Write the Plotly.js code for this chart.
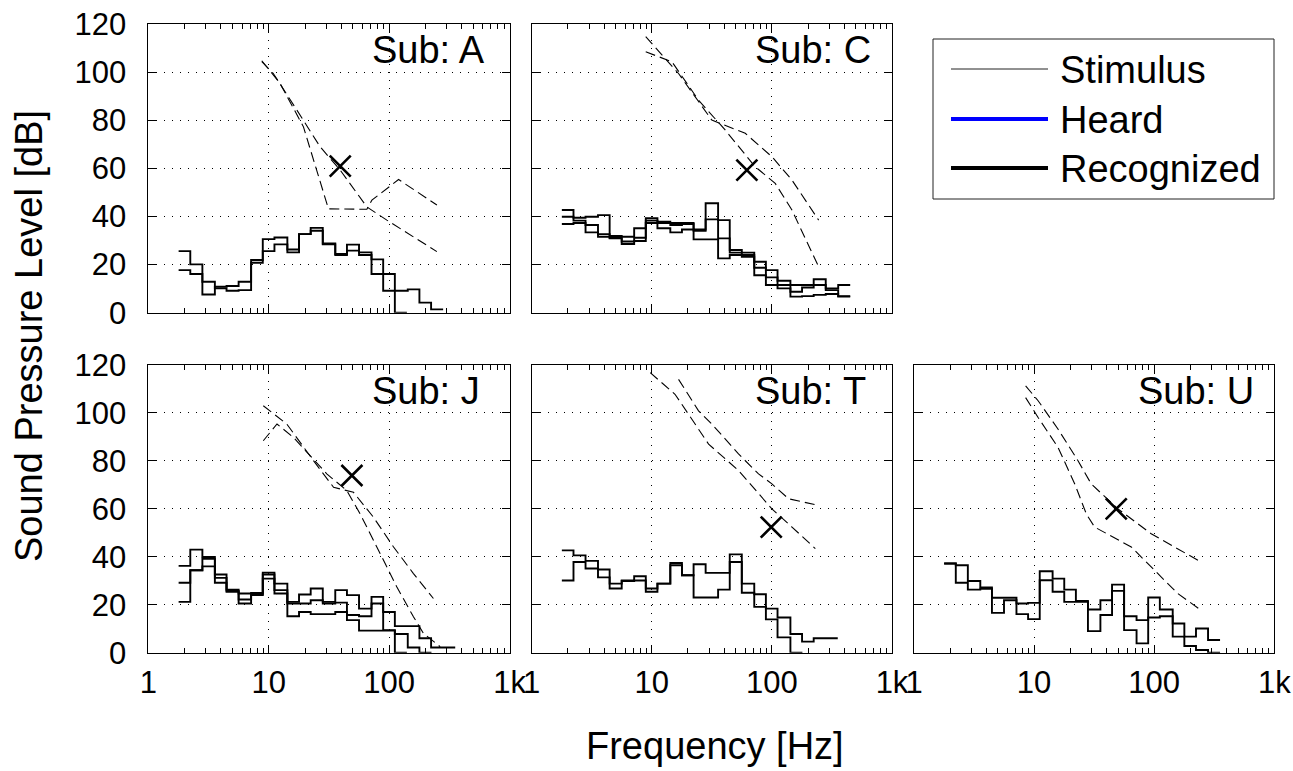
<!DOCTYPE html>
<html>
<head>
<meta charset="utf-8">
<script src="https://cdn.plot.ly/plotly-3.0.1.min.js"></script>
<style>
html,body{margin:0;padding:0;background:#fff;}
#chart{width:1293px;height:771px;}
</style>
</head>
<body>
<div id="chart"></div>
<script>
// ---------- DATA ----------
// 1/3-octave band centre frequencies (Hz)
const bandCenters = [2, 2.5, 3.15, 4, 5, 6.3, 8, 10, 12.5, 16, 20, 25, 31.5, 40, 50, 63, 80, 100, 125, 160, 200, 250, 315, 400, 500];

// Band levels (dB) per subject, step curves
const subA_band1 = [25.6, 20.1, 7.6, 10.8, 11.1, 12.9, 21.9, 30.6, 31.3, 26.3, 32.7, 35.3, 28.8, 24.4, 28.3, 25.1, 22.2, 9.1, 9.1, 9.7, 4.2, 1.4];
const subA_band2 = [17.7, 16.1, 12.9, 10.1, 9.1, 9.4, 20.8, 25.6, 28.4, 25.1, 32.7, 34.1, 28.4, 24.0, 25.8, 24.0, 16.1, 16.1, 0];

const subC_band1 = [42.7, 39.5, 39.9, 40.6, 31.9, 31.6, 35.1, 39.3, 37.8, 37.3, 37.3, 34.6, 45.5, 38.5, 26.1, 25.0, 21.2, 17.7, 13.3, 11.5, 11.5, 13.9, 10.1, 11.5];
const subC_band2 = [39.9, 38.3, 36.5, 32.7, 31.2, 29.6, 31.2, 38.3, 37.3, 36.5, 36.9, 34.1, 38.8, 30.9, 25.0, 24.0, 18.7, 14.7, 11.5, 8.7, 10.5, 11.5, 9.4, 6.9];
const subC_band3 = [36.9, 37.3, 33.4, 31.6, 30.9, 28.6, 29.8, 37.3, 35.1, 33.4, 34.6, 30.5, 30.5, 22.6, 24.0, 23.3, 15.6, 11.5, 10.1, 6.7, 6.9, 7.4, 7.8, 6.7];

const subJ_band1 = [36.2, 43.0, 39.9, 32.6, 26.3, 24.7, 24.9, 33.4, 28.8, 21.2, 24.3, 26.8, 21.2, 26.1, 24.0, 18.4, 23.3, 17.0, 11.1, 11.1, 6.0, 2.2, 2.2];
const subJ_band2 = [29.2, 34.4, 39.2, 31.2, 25.8, 22.2, 24.4, 32.6, 26.1, 20.5, 20.5, 21.9, 20.5, 20.9, 15.7, 15.2, 20.5, 9.4, 7.8, 2.2, 0];
const subJ_band3 = [21.2, 34.4, 36.0, 29.2, 25.4, 20.5, 24.0, 30.9, 24.7, 15.2, 17.0, 16.1, 16.1, 17.0, 13.6, 9.2, 9.2, 9.2, 0];

const subT_band1 = [42.7, 40.6, 38.3, 34.7, 28.8, 30.1, 31.9, 26.8, 28.8, 37.4, 32.3, 36.9, 33.3, 33.3, 41.0, 28.8, 24.4, 18.4, 14.7, 7.8, 4.6, 6.0, 6.0];
const subT_band2 = [30.1, 37.8, 35.1, 31.4, 26.8, 29.9, 30.1, 25.4, 28.8, 36.5, 32.3, 23.0, 23.0, 26.3, 37.8, 25.0, 19.1, 13.9, 6.4, 0];

const subU_band1 = [37.2, 36.5, 29.9, 27.2, 22.9, 22.9, 20.5, 20.8, 34.0, 30.9, 26.3, 21.6, 18.0, 21.9, 28.4, 15.2, 13.6, 23.0, 18.0, 12.2, 6.7, 10.1, 5.3];
const subU_band2 = [37.2, 29.2, 26.3, 26.7, 16.6, 21.9, 16.1, 14.0, 30.2, 25.4, 21.2, 21.2, 9.0, 15.7, 25.8, 9.4, 3.9, 14.7, 15.2, 6.7, 2.8, 1.1, 0];

// Stimulus curves (dashed): frequency (Hz) and level (dB)
const subA_stim1_f = [8.75, 12.4, 19.4, 23.5, 31.3, 65.2, 71.8, 119.6, 249];
const subA_stim1_db = [104.8, 95.4, 77.3, 63.5, 43.2, 43.0, 46.8, 55.4, 44.8];
const subA_stim2_f = [8.75, 10.9, 17.1, 26.7, 39.2, 65.2, 95.6, 249];
const subA_stim2_db = [104.4, 99.5, 84.3, 69.0, 59.3, 44.0, 38.5, 25.4];

const subC_stim1_f = [8.9, 16.7, 31.6, 60, 100, 146.8, 245];
const subC_stim1_db = [114.8, 99.5, 80.1, 74.6, 64.9, 55.2, 38.5];
const subC_stim2_f = [8.9, 14.7, 24.5, 40.8, 72.6, 106.6, 146.8, 245];
const subC_stim2_db = [108.5, 104.4, 88.4, 76.0, 60.7, 53.8, 42.7, 19.1];

const subJ_stim1_f = [9.0, 14.1, 23.5, 34.5, 50.5, 74, 108.7, 159, 233];
const subJ_stim1_db = [103, 95.4, 80.1, 69.0, 66.9, 56.5, 44.1, 33.0, 22.6];
const subJ_stim2_f = [9.0, 11.7, 16.0, 30.3, 44.5, 57.4, 84.2, 115.8, 159, 193, 265];
const subJ_stim2_db = [88.4, 95.4, 89.8, 74.6, 67.6, 57.9, 41.3, 27.4, 15.0, 8.0, 2.5];

const subT_stim1_f = [9.7, 15.6, 20.2, 29.7, 52.7, 100, 147, 230];
const subT_stim1_db = [116.8, 107.8, 99.5, 87.0, 76.0, 60.0, 52.4, 43.4];
const subT_stim2_f = [16.7, 24.5, 31.6, 52.7, 77.4, 100, 137.7, 245];
const subT_stim2_db = [114.0, 100.9, 95.4, 82.9, 74.6, 70.4, 64.2, 61.4];

const subU_stim1_f = [8.5, 10.8, 15.8, 23.2, 29.9, 49.9, 94.4, 138, 246];
const subU_stim1_db = [111.3, 105.1, 93.3, 80.1, 70.4, 60.0, 49.6, 44.8, 37.8];
const subU_stim2_f = [8.5, 10.8, 15.8, 21.8, 27.2, 31.9, 64.4, 94.4, 157, 246];
const subU_stim2_db = [106.4, 98.1, 85.7, 70.4, 57.9, 52.4, 44.1, 35.8, 24.7, 17.7];

// Threshold markers (X)
const markFreq = [39.2, 61.9, 49.0, 98.7, 48.3];
const markDb = [61.0, 59.3, 73.9, 52.4, 60.0];

const subjects = ["A", "C", "J", "T", "U"];
const xTickVals = [1, 10, 100, 1000];
const xTickText = ["1", "10", "100", "1k"];
const yTickVals = [0, 20, 40, 60, 80, 100, 120];
const minorXVals = [2,3,4,5,6,7,8,9,20,30,40,50,60,70,80,90,200,300,400,500,600,700,800,900];
const legendLabels = ["Stimulus", "Heard", "Recognized"];

// ---------- BUILD ----------
const W = 1293, H = 771;
const FONT = "Liberation Sans, Arial, Helvetica, sans-serif";
const half = Math.pow(10, 0.05);

function stepTrace(vals, ax) {
  const x = vals.map((v, i) => bandCenters[i] / half);
  x.push(bandCenters[vals.length - 1] * half);
  const y = vals.concat([vals[vals.length - 1]]);
  return {x: x, y: y, type: "scatter", mode: "lines", line: {shape: "hv", color: "#000", width: 1.9},
          xaxis: "x" + ax, yaxis: "y" + ax, showlegend: false, hoverinfo: "skip"};
}
function stimTrace(f, db, ax) {
  return {x: f, y: db, type: "scatter", mode: "lines", line: {color: "#000", width: 1.1, dash: "10px,5px"},
          xaxis: "x" + ax, yaxis: "y" + ax, showlegend: false, hoverinfo: "skip"};
}
function markTrace(i, ax) {
  return {x: [markFreq[i]], y: [markDb[i]], type: "scatter", mode: "markers",
          marker: {symbol: "x-thin-open", size: 21, color: "#000", line: {color: "#000", width: 2.6}},
          xaxis: "x" + ax, yaxis: "y" + ax, showlegend: false, hoverinfo: "skip"};
}

const panels = [
  {ax: "", bands: [subA_band1, subA_band2], stims: [[subA_stim1_f, subA_stim1_db], [subA_stim2_f, subA_stim2_db]]},
  {ax: "2", bands: [subC_band1, subC_band2, subC_band3], stims: [[subC_stim1_f, subC_stim1_db], [subC_stim2_f, subC_stim2_db]]},
  {ax: "3", bands: [subJ_band1, subJ_band2, subJ_band3], stims: [[subJ_stim1_f, subJ_stim1_db], [subJ_stim2_f, subJ_stim2_db]]},
  {ax: "4", bands: [subT_band1, subT_band2], stims: [[subT_stim1_f, subT_stim1_db], [subT_stim2_f, subT_stim2_db]]},
  {ax: "5", bands: [subU_band1, subU_band2], stims: [[subU_stim1_f, subU_stim1_db], [subU_stim2_f, subU_stim2_db]]}
];

const traces = [];
panels.forEach((p, i) => {
  p.stims.forEach(s => traces.push(stimTrace(s[0], s[1], p.ax)));
  p.bands.forEach(b => traces.push(stepTrace(b, p.ax)));
  traces.push(markTrace(i, p.ax));
});

// panel geometry in pixels
const colX = [[148.4, 509.6], [531.7, 892.0], [914.0, 1274.3]];
const rowY = [[24.2, 312.7], [365.0, 652.7]];
const pos = [[0, 0], [1, 0], [0, 1], [1, 1], [2, 1]];
const px = v => v / W, py = v => 1 - v / H;

const layout = {
  width: W, height: H,
  margin: {l: 0, r: 0, t: 0, b: 0},
  paper_bgcolor: "#fff", plot_bgcolor: "#fff",
  showlegend: false,
  font: {family: FONT, color: "#000"},
  shapes: [], annotations: []
};

pos.forEach((pp, i) => {
  const c = colX[pp[0]], r = rowY[pp[1]];
  const key = i === 0 ? "" : String(i + 1);
  layout["xaxis" + key] = {
    type: "log", range: [0, 3], domain: [px(c[0]), px(c[1])], anchor: "y" + key,
    tickmode: "array", tickvals: xTickVals, ticktext: xTickText,
    showticklabels: pp[1] === 1, tickfont: {family: FONT, size: 31, color: "#000"},
    ticks: "inside", ticklen: 8, tickwidth: 1, tickcolor: "#000",
    showline: true, linecolor: "#000", linewidth: 1, mirror: "ticks",
    showgrid: true, gridcolor: "#000", gridwidth: 1, griddash: "1px,7px",
    minor: {tickmode: "array", tickvals: minorXVals, ticks: "inside", ticklen: 5, tickcolor: "#000", tickwidth: 1, showgrid: false},
    zeroline: false, fixedrange: true, ticklabelstandoff: 2
  };
  layout["yaxis" + key] = {
    range: [0, 120], domain: [py(r[1]), py(r[0])], anchor: "x" + key,
    tickmode: "array", tickvals: yTickVals,
    showticklabels: pp[0] === 0, tickfont: {family: FONT, size: 31, color: "#000"},
    ticks: "inside", ticklen: 8, tickwidth: 1, tickcolor: "#000",
    showline: true, linecolor: "#000", linewidth: 1, mirror: "ticks",
    showgrid: true, gridcolor: "#000", gridwidth: 1, griddash: "1px,7px",
    zeroline: false, fixedrange: true, ticklabelstandoff: 15
  };
  layout.annotations.push({
    xref: "paper", yref: "paper", x: px(c[0] + 221.6), y: py(r[0] + 25.5),
    xanchor: "left", yanchor: "middle", showarrow: false,
    text: "Sub: " + subjects[i], font: {family: FONT, size: 38, color: "#000"}
  });
});

// axis titles
layout.annotations.push({
  xref: "paper", yref: "paper", x: px(715), y: py(746), xanchor: "center", yanchor: "middle",
  showarrow: false, text: "Frequency [Hz]", font: {family: FONT, size: 38, color: "#000"}
});
layout.annotations.push({
  xref: "paper", yref: "paper", x: px(29), y: py(336), xanchor: "center", yanchor: "middle",
  showarrow: false, textangle: -90, text: "Sound Pressure Level [dB]", font: {family: FONT, size: 38, color: "#000"}
});

// legend box
layout.shapes.push({type: "rect", xref: "paper", yref: "paper", x0: px(933), x1: px(1274), y0: py(199), y1: py(39),
  line: {color: "#222", width: 1}, fillcolor: "#fff", layer: "above"});
const legY = [69, 119, 168];
const legStyle = [{color: "#222", width: 1}, {color: "#0000ff", width: 4}, {color: "#000", width: 4}];
legendLabels.forEach((lab, i) => {
  layout.shapes.push({type: "line", xref: "paper", yref: "paper", x0: px(951), x1: px(1048), y0: py(legY[i]), y1: py(legY[i]),
    line: legStyle[i], layer: "above"});
  layout.annotations.push({xref: "paper", yref: "paper", x: px(1058), y: py(legY[i] + 1), xanchor: "left", yanchor: "middle",
    showarrow: false, text: lab, font: {family: FONT, size: 38, color: "#000"}});
});

Plotly.newPlot("chart", traces, layout, {displayModeBar: false, staticPlot: true});
</script>
</body>
</html>
